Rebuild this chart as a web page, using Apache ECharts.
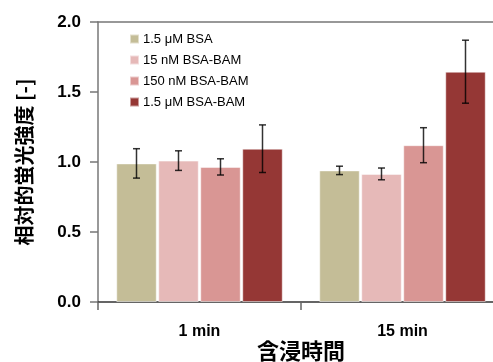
<!DOCTYPE html>
<html><head><meta charset="utf-8">
<script src="https://cdn.jsdelivr.net/npm/echarts@6/dist/echarts.min.js"></script>
<style>html,body{margin:0;padding:0;background:#fff}#c{width:493px;height:362px}</style>
</head><body><div id="c"></div>
<script>
const categories = ['1 min', '15 min'];
const seriesNames = ['1.5 μM BSA', '15 nM BSA-BAM', '150 nM BSA-BAM', '1.5 μM BSA-BAM'];
const seriesColors = ['#c4bd97', '#e6b9b8', '#d99694', '#953735'];
const values_bsa = [0.99, 0.94];
const values_15nM = [1.01, 0.915];
const values_150nM = [0.965, 1.12];
const values_15uM = [1.095, 1.645];
const errors_bsa = [0.105, 0.03];
const errors_15nM = [0.07, 0.042];
const errors_150nM = [0.058, 0.125];
const errors_15uM = [0.17, 0.225];
const yTicks = [0, 0.5, 1.0, 1.5, 2.0];

const allValues = [values_bsa, values_15nM, values_150nM, values_15uM];
const allErrors = [errors_bsa, errors_15nM, errors_150nM, errors_15uM];
const BAR_W = 40.5, PITCH = 42;

const chart = echarts.init(document.getElementById('c'), null, {renderer: 'canvas'});
const font = 'Liberation Sans, Arial, sans-serif';
const series = [];
allValues.forEach((vals, i) => {
  series.push({
    name: seriesNames[i], type: 'bar', data: vals, barWidth: BAR_W, barGap: ((PITCH - BAR_W) / BAR_W * 100) + '%',
    itemStyle: {color: seriesColors[i], borderColor: 'rgba(255,255,255,0.5)', borderWidth: 1},
    emphasis: {disabled: true}
  });
});
allValues.forEach((vals, i) => {
  series.push({
    type: 'custom', silent: true, z: 10,
    data: vals.map((v, k) => [k, v, allErrors[i][k]]),
    renderItem: function (params, api) {
      const c = api.value(0), v = api.value(1), e = api.value(2);
      const off = (i - 1.5) * PITCH;
      const top = api.coord([c, v + e]);
      const bot = api.coord([c, v - e]);
      const x = top[0] + off;
      const st = {stroke: 'rgba(0,0,0,0.8)', lineWidth: 1.5};
      return {type: 'group', children: [
        {type: 'line', shape: {x1: x, y1: top[1], x2: x, y2: bot[1]}, style: st},
        {type: 'line', shape: {x1: x - 3.5, y1: top[1], x2: x + 3.5, y2: top[1]}, style: st},
        {type: 'line', shape: {x1: x - 3.5, y1: bot[1], x2: x + 3.5, y2: bot[1]}, style: st}
      ]};
    }
  });
});

chart.setOption({
  animation: false,
  grid: {left: 98, top: 22, width: 406, height: 280, containLabel: false, outerBoundsMode: 'none'},
  legend: {
    data: seriesNames, orient: 'vertical', left: 124, top: 27, icon: 'rect',
    itemWidth: 9, itemHeight: 9, itemGap: 7,
    textStyle: {fontFamily: font, fontSize: 13, color: '#000', padding: [0, 0, 0, -1], lineHeight: 14}
  },
  xAxis: [{
    type: 'category', data: categories,
    axisLine: {lineStyle: {color: '#333', width: 1.5}},
    axisTick: {show: true, length: 8, alignWithLabel: false, lineStyle: {color: '#666', width: 1.5}},
    axisLabel: {fontFamily: font, fontSize: 16, fontWeight: 'bold', color: '#000', margin: 22},
    name: '含浸時間', nameLocation: 'middle', nameGap: 38, nameMoveOverlap: false,
    nameTextStyle: {fontFamily: 'Noto Sans CJK JP', fontSize: 22, fontWeight: 'bold', color: '#000'}
  }, {
    type: 'category', position: 'top', data: categories,
    axisLine: {lineStyle: {color: '#777', width: 1.5}}, axisTick: {show: false}, axisLabel: {show: false}
  }],
  yAxis: {
    type: 'value', min: 0, max: 2, interval: 0.5,
    axisLine: {show: true, lineStyle: {color: '#777', width: 1.5}},
    axisTick: {show: true, length: 8, lineStyle: {color: '#777', width: 1.5}},
    splitLine: {show: false},
    axisLabel: {fontFamily: font, fontSize: 17, fontWeight: 'bold', color: '#000', margin: 17, formatter: v => v.toFixed(1)},
    name: '相対的蛍光強度 [-]', nameLocation: 'middle', nameGap: 64, nameRotate: 90, nameMoveOverlap: false,
    nameTextStyle: {fontFamily: 'Noto Sans CJK JP', fontSize: 20, fontWeight: 'bold', color: '#000'}
  },
  series: series
});
</script></body></html>
